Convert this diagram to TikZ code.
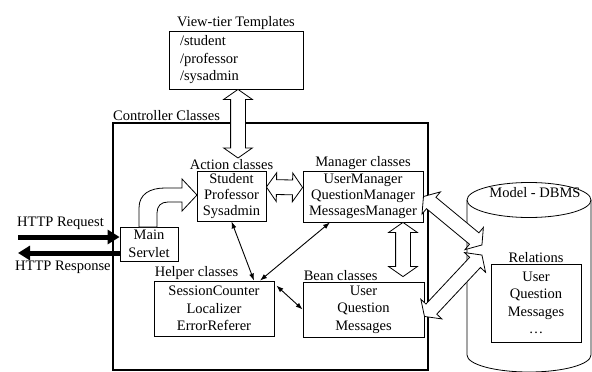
\documentclass[tikz,border=0pt]{standalone}
\usepackage{fontspec}
\setmainfont{Liberation Serif}
\usetikzlibrary{arrows.meta,shapes,positioning,calc}
\tikzset{
  basic/.style   = {draw, line width=0.8pt, inner sep=0pt, align=center,
                    font=\fontsize{14.5}{17.5}\selectfont},
  class/.style   = {basic, fill=white},
  tight/.style   = {class, font=\fontsize{14.5}{16}\selectfont},
  caption/.style = {inner sep=1pt, font=\fontsize{14.5}{17.5}\selectfont},
  fat/.style     = {double arrow, draw, line width=0.8pt, fill=white,
                    inner xsep=0pt, inner ysep=7pt,
                    double arrow head extend=7pt, double arrow tip angle=110},
  http/.style    = {line width=5pt, -{Triangle[length=12pt,width=14pt]}},
  link/.style    = {{Latex[length=7pt,width=5pt]}-{Latex[length=7pt,width=5pt]},
                    line width=0.9pt}
}
% hollow double arrow between two named points
\newcommand\fatlink[2]{%
  \path let \p1=($(#2)-(#1)$), \n1={atan2(\y1,\x1)}, \n2={veclen(\x1,\y1)} in
    node[fat, minimum height=\n2, rotate=\n1] at ($(#1)!0.5!(#2)$) {};}

\begin{document}
\begin{tikzpicture}[x=1pt,y=-1pt]
\useasboundingbox (0,0) rectangle (592,372);

% controller
\node[basic, line width=2pt, minimum width=315pt, minimum height=247pt] (ctrl) at (270.5,246.5) {};
\node[caption, above right=0pt and 0pt of ctrl.north west] (ctrll) {Controller Classes};

% view tier
\node[class, minimum width=134pt, minimum height=58pt, text width=112pt, align=left] (tpl) at (236,60)
  {/student\\/professor\\/sysadmin};
\node[caption, above=0pt of tpl] (tpll) {View-tier Templates};

% classes inside the controller
\node[tight, minimum width=69pt, minimum height=50pt] (act) at (231.5,196) {Student\\Professor\\Sysadmin};
\node[caption, above=0pt of act] (actl) {Action classes};
\node[tight, minimum width=120pt, minimum height=51pt] (mgr) at (363,196.5) {UserManager\\QuestionManager\\MessagesManager};
\node[caption, above=0pt of mgr] (mgrl) {Manager classes};
\node[class, minimum width=58pt, minimum height=34pt] (srv) at (149,244) {Main\\Servlet};
\node[class, minimum width=120pt, minimum height=55pt] (hlp) at (214,308.5) {SessionCounter\\Localizer\\ErrorReferer};
\node[caption, above right=0pt and 0pt of hlp.north west] (hlpl) {Helper classes};
\node[class, minimum width=121pt, minimum height=55pt] (bean) at (363.5,309.5) {User\\Question\\Messages};
\node[caption, above right=0pt and 0pt of bean.north west] (beanl) {Bean classes};

% model
\draw[line width=0.8pt] (467,200) -- (467,355) arc[start angle=180, end angle=360, x radius=62pt, y radius=17pt] -- (591,200);
\draw[line width=0.8pt, fill=white] (529,200) ellipse[x radius=62pt, y radius=17.5pt];
\node[caption] (dbms) at (535,193) {Model - DBMS};
\node[class, minimum width=90pt, minimum height=78pt] (rel) at (536,303) {User\\Question\\Messages\\\dots};
\node[caption, above=0pt of rel] (rell) {Relations};

% http
\coordinate (req) at (18,237);
\coordinate (resp) at (18,253);
\node[caption, anchor=south west] (reql) at (16,231) {HTTP Request};
\node[caption, anchor=north west] (respl) at (14,260) {HTTP Response};
\draw[http] (req) -- (srv.west |- req);
\draw[http] (srv.west |- resp) -- (resp);

% servlet to actions
\draw[line width=0.8pt, fill=white] (139,227) -- (139,208) .. controls (139,194) and (150,188) .. (165,188)
  -- (182,188) -- (182,179) -- (197,195) -- (182,211) -- (182,202) -- (168,202)
  .. controls (161,202) and (157,206) .. (157,213) -- (157,227) -- cycle;

% hollow arrows
\coordinate (a1) at ([xshift=2pt]tpl.south);
\coordinate (a2) at (a1 |- actl.north);
\coordinate (b1) at ([yshift=9pt]act.east);
\coordinate (b2) at ([yshift=9pt]mgr.west);
\coordinate (m1) at ([xshift=40pt]mgr.south);
\coordinate (m2) at ($(m1 |- bean.north)+(0,-5)$);
\coordinate (e1) at (mgr.east);
\coordinate (e2) at ([yshift=-7pt]bean.east);
\coordinate (d1) at (482,245);
\coordinate (d2) at (482,255);
\fatlink{a1}{a2}
\fatlink{b1}{b2}
\fatlink{m1}{m2}
\fatlink{e1}{d1}
\fatlink{e2}{d2}

% thin links
\draw[link] (act.south) -- ([xshift=40pt]hlp.north);
\draw[link] ([xshift=-33pt]mgr.south) -- ([xshift=46pt]hlp.north);
\draw[link] ($(hlp.north east)+(2,5)$) -- (bean.west);
\end{tikzpicture}
\end{document}
